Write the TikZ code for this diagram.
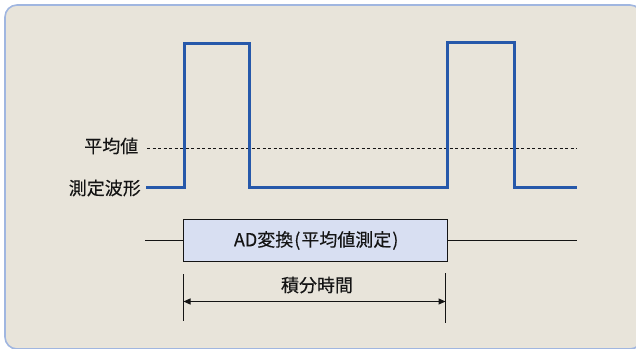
\documentclass[tikz,border=0pt]{standalone}
\usepackage{fontspec}
\setmainfont{Noto Sans CJK JP}[FakeBold=0.15]
\usetikzlibrary{arrows.meta}
\definecolor{bgc}{RGB}{232,228,218}
\definecolor{framec}{RGB}{160,182,224}
\definecolor{wavec}{RGB}{38,88,170}
\definecolor{boxc}{RGB}{216,223,242}
\definecolor{inkc}{RGB}{20,20,20}
\newcommand{\lp}{\hspace{1pt}(\hspace{1pt}}
\newcommand{\rp}{\hspace{1pt})}
\tikzset{
  lbl/.style={font=\fontsize{18}{21}\selectfont, text=inkc, inner sep=0pt},
  wave/.style={draw=wavec, line width=3pt, line join=miter},
  thin/.style={draw=inkc, line width=1pt},
  adbox/.style={draw=inkc, line width=1.2pt, fill=boxc, minimum width=264pt, minimum height=42pt, inner sep=0pt, font=\fontsize{18}{21}\selectfont, text=inkc},
}
\begin{document}
\begin{tikzpicture}[x=1pt,y=-1pt]
\useasboundingbox (0,0) rectangle (636,348);
\begin{scope}
\clip (0,0) rectangle (636,348);
\draw[fill=bgc, draw=framec, line width=1.6pt, rounded corners=12pt] (5,5) rectangle (642,349);
\end{scope}
% labels
\node[lbl, anchor=east] (avg) at (138.5,146) {平均値};
\node[lbl, anchor=east] (meas) at (141,188) {測定波形};
% dashed average line
\coordinate (d1) at (147,148);
\coordinate (d2) at (577,148);
\draw[thin, dash pattern=on 3pt off 2.5pt] (d1) -- (d2);
% waveform
\coordinate (w0) at (146,187);
\coordinate (w1) at (184,187);
\coordinate (w2) at (184,43);
\coordinate (w3) at (249,43);
\coordinate (w4) at (249,187);
\coordinate (w5) at (447,187);
\coordinate (w6) at (447,42.5);
\coordinate (w7) at (514,42.5);
\coordinate (w8) at (514,187);
\coordinate (w9) at (577,187);
\draw[wave] (w0) -- (w1) -- (w2) -- (w3) -- (w4) -- (w5) -- (w6) -- (w7) -- (w8) -- (w9);
% AD box
\node[adbox] (ad) at (315.2,240.5) {\hspace{2pt}AD変換\lp 平均値測定\rp};
\coordinate (l0) at (145,240.5);
\coordinate (r0) at (577,240.5);
\draw[thin] (l0) -- (ad.west);
\draw[thin] (ad.east) -- (r0);
% integration time
\coordinate (t1a) at (183.5,274);
\coordinate (t1b) at (183.5,321);
\coordinate (t2a) at (445.5,273);
\coordinate (t2b) at (445.5,323);
\draw[thin] (t1a) -- (t1b);
\draw[thin] (t2a) -- (t2b);
\coordinate (a1) at (183.5,301.5);
\coordinate (a2) at (445.5,301.5);
\draw[thin, {Triangle[length=7pt,width=6pt]}-{Triangle[length=7pt,width=6pt]}] (a1) -- (a2);
\node[lbl] (integ) at (317,285) {積分時間};
\end{tikzpicture}
\end{document}
